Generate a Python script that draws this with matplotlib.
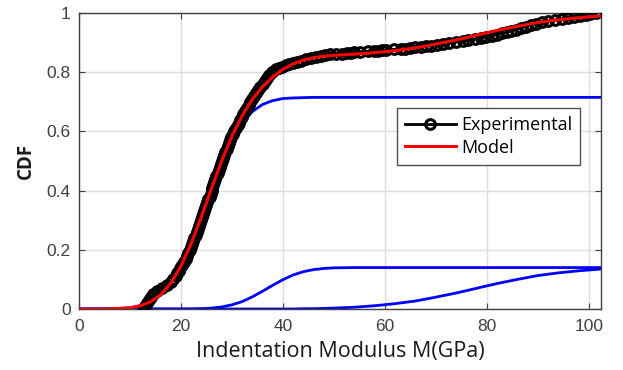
import matplotlib
matplotlib.use("Agg")
import matplotlib.pyplot as plt

# ---- data ----
exp_x = [12.8, 13.0, 13.3, 13.7, 14.1, 14.6, 15.3, 16.2, 17.2, 18.0, 18.5,
         19.0, 19.3, 19.6, 19.9, 20.3, 20.6, 20.9, 21.2, 21.4, 21.7,
         21.9, 22.2, 22.4, 22.6, 22.9, 23.1, 23.3, 23.5, 23.8, 24.0,
         24.2, 24.4, 24.6, 24.8, 25.0, 25.2, 25.4, 25.6, 25.8, 26.0,
         26.1, 26.3, 26.5, 26.7, 26.9, 27.2, 27.4, 27.6, 27.8, 28.0,
         28.2, 28.5, 28.7, 29.0, 29.2, 29.4, 29.7, 29.9, 30.2, 30.5,
         30.8, 31.1, 31.3, 31.6, 31.9, 32.2, 32.6, 32.9, 33.3, 33.6,
         34.0, 34.4, 34.8, 35.2, 35.6, 36.0, 36.4, 36.8, 37.2, 37.8, 38.6,
         39.3, 39.9, 40.6, 41.2, 41.9, 42.7, 43.6, 44.6, 45.6, 46.5,
         47.5, 48.3, 49.2, 50.5, 51.6, 52.5, 53.3, 54.0, 55.2, 56.6, 57.8, 58.6, 59.5,
         60.3, 61.8, 63.2, 64.0, 64.9, 66.0, 67.0, 68.0, 69.0, 70.2, 71.4,
         72.6, 74.0, 75.3, 76.4, 77.6, 78.8, 79.8, 81.0, 82.0, 83.0,
         83.9, 84.8, 85.8, 86.7, 87.6, 88.6, 89.6, 90.8, 92.0, 93.3,
         94.7, 96.0, 97.2, 98.3, 99.4, 100.3, 101.5]
exp_y = [0.000, 0.010, 0.020, 0.030, 0.040, 0.050, 0.060, 0.070, 0.080, 0.090, 0.100,
         0.110, 0.120, 0.130, 0.140, 0.150, 0.160, 0.170, 0.180, 0.190, 0.200,
         0.210, 0.220, 0.230, 0.240, 0.250, 0.260, 0.270, 0.280, 0.290, 0.300,
         0.310, 0.320, 0.330, 0.340, 0.350, 0.360, 0.370, 0.380, 0.390, 0.400,
         0.410, 0.420, 0.430, 0.440, 0.450, 0.460, 0.470, 0.480, 0.490, 0.500,
         0.510, 0.520, 0.530, 0.540, 0.550, 0.560, 0.570, 0.580, 0.590, 0.600,
         0.610, 0.620, 0.630, 0.640, 0.650, 0.660, 0.670, 0.680, 0.690, 0.700,
         0.710, 0.720, 0.730, 0.740, 0.750, 0.760, 0.770, 0.780, 0.790, 0.800, 0.810,
         0.815, 0.819, 0.823, 0.827, 0.831, 0.835, 0.839, 0.843, 0.847, 0.851,
         0.855, 0.858, 0.860, 0.862, 0.863, 0.864, 0.866, 0.868, 0.869, 0.870, 0.871, 0.872, 0.874,
         0.876, 0.877, 0.878, 0.880, 0.882, 0.884, 0.886, 0.888, 0.890, 0.893, 0.896,
         0.899, 0.902, 0.905, 0.908, 0.911, 0.915, 0.919, 0.923, 0.927, 0.931,
         0.935, 0.939, 0.944, 0.949, 0.954, 0.959, 0.964, 0.968, 0.972, 0.976,
         0.980, 0.984, 0.988, 0.991, 0.994, 0.997, 1.000]

curve_x = [0, 4, 8, 10, 12, 14, 16, 18, 20, 22, 24, 26, 28, 30, 32, 34, 36, 38,
           40, 42, 44, 46, 48, 50, 54, 58, 62, 66, 70, 74, 78, 82, 86, 90, 94,
           98, 102.4]
model_y = [0.000, 0.000, 0.002, 0.004, 0.011, 0.024, 0.048, 0.087, 0.145, 0.221,
           0.311, 0.408, 0.501, 0.584, 0.653, 0.708, 0.751, 0.784, 0.810, 0.828,
           0.841, 0.849, 0.854, 0.857, 0.861, 0.866, 0.873, 0.882, 0.895, 0.909,
           0.925, 0.941, 0.955, 0.968, 0.977, 0.984, 0.990]
comp1_y = [0.000, 0.000, 0.002, 0.004, 0.011, 0.024, 0.048, 0.087, 0.145, 0.221,
           0.310, 0.405, 0.494, 0.570, 0.628, 0.667, 0.691, 0.704, 0.711, 0.713,
           0.714, 0.715, 0.715, 0.715, 0.715, 0.715, 0.715, 0.715, 0.715, 0.715,
           0.715, 0.715, 0.715, 0.715, 0.715, 0.715, 0.715]
comp2_y = [0.000, 0.000, 0.000, 0.000, 0.000, 0.000, 0.000, 0.000, 0.000, 0.000,
           0.001, 0.003, 0.007, 0.014, 0.025, 0.041, 0.060, 0.080, 0.099, 0.115,
           0.126, 0.133, 0.137, 0.139, 0.140, 0.140, 0.140, 0.140, 0.140, 0.140,
           0.140, 0.140, 0.140, 0.140, 0.140, 0.140, 0.140]
comp3_y = [0.000, 0.000, 0.000, 0.000, 0.000, 0.000, 0.000, 0.000, 0.000, 0.000,
           0.000, 0.000, 0.000, 0.000, 0.000, 0.000, 0.000, 0.000, 0.000, 0.000,
           0.001, 0.001, 0.002, 0.003, 0.006, 0.011, 0.018, 0.027, 0.040, 0.054,
           0.070, 0.086, 0.100, 0.113, 0.122, 0.129, 0.135]

x_ticks = [0, 20, 40, 60, 80, 100]
y_ticks = [0, 0.2, 0.4, 0.6, 0.8, 1]
y_tick_labels = ["0", "0.2", "0.4", "0.6", "0.8", "1"]

# ---- figure ----
fig = plt.figure(figsize=(6.23, 3.70), dpi=100)
ax = fig.add_axes([79 / 623, 61 / 370, 522 / 623, 296 / 370])

ax.plot(curve_x, comp1_y, color=(0, 0, 1), lw=2.0, zorder=2)
ax.plot(curve_x, comp2_y, color=(0, 0, 1), lw=2.0, zorder=2)
ax.plot(curve_x, comp3_y, color=(0, 0, 1), lw=2.0, zorder=2)
ax.plot(exp_x, exp_y, color='black', lw=2.0, marker='o', markersize=7,
        markerfacecolor='none', markeredgecolor='black', markeredgewidth=2.2,
        label='Experimental', zorder=3)
ax.plot(curve_x, model_y, color=(1, 0, 0), lw=2.2, label='Model', zorder=4)

ax.set_xlim(0, 102.4)
ax.set_ylim(0, 1)
ax.set_xticks(x_ticks)
ax.set_yticks(y_ticks)
ax.set_yticklabels(y_tick_labels)

for lab in ax.get_xticklabels() + ax.get_yticklabels():
    lab.set_fontfamily('Liberation Sans')
    lab.set_fontsize(12.5)
    lab.set_color('#262626')

ax.tick_params(direction='in', length=4, width=0.8, colors='#404040',
               top=True, right=True, pad=6)
ax.tick_params(axis='x', pad=7)
for s in ax.spines.values():
    s.set_color('#404040')
    s.set_linewidth(1.0)

ax.grid(True, color='#dedede', lw=1.0)
ax.set_axisbelow(True)

ax.set_xlabel('Indentation Modulus M(GPa)', family='Open Sans', fontsize=15.5,
              color='#1a1a1a', labelpad=5)
ax.set_ylabel('CDF', family='Open Sans', fontsize=13.5, fontweight='bold',
              color='#1a1a1a', labelpad=8)

leg = ax.legend(loc='upper left', bbox_to_anchor=(0.609, 0.679),
                borderaxespad=0, fancybox=False, framealpha=1,
                edgecolor='#505050', handlelength=2.8, handletextpad=0.3,
                prop=dict(family='Open Sans', size=13), borderpad=0.45,
                labelspacing=0.25)
leg.get_frame().set_linewidth(1.0)

fig.savefig('out.png', dpi=100)
